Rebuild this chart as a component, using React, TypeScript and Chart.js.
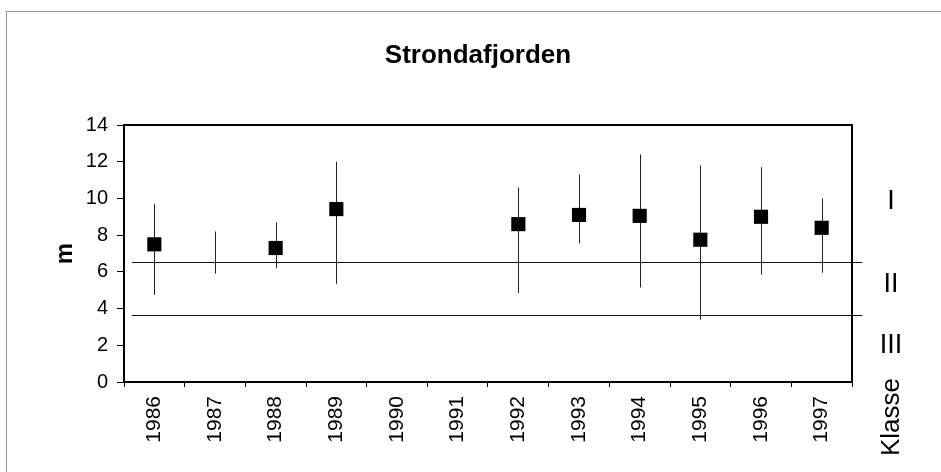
import React, { useEffect, useRef } from 'react';
import { Chart, registerables } from 'chart.js';

Chart.register(...registerables);

const years = ['1986', '1987', '1988', '1989', '1990', '1991', '1992', '1993', '1994', '1995', '1996', '1997'];
const meanDepth = [7.5, null, 7.3, 9.42, null, null, 8.6, 9.1, 9.05, 7.75, 9.0, 8.4];
const maxDepth = [9.7, 8.2, 8.7, 12.0, null, null, 10.6, 11.3, 12.4, 11.8, 11.7, 10.0];
const minDepth = [4.75, 5.9, 6.2, 5.35, null, null, 4.85, 7.55, 5.15, 3.4, 5.85, 5.95];
const classLimits = [6.55, 3.65];
const classNames = ['I', 'II', 'III'];
const classNameValues = [9.85, 5.3, 2.0];
const chartTitle = 'Strondafjorden';

const FONT = '"Liberation Sans", Arial, Helvetica, sans-serif';

const extrasPlugin = {
  id: 'extras',
  beforeDatasetsDraw(chart: any) {
    const { ctx, chartArea } = chart;
    const x = chart.scales.x;
    const y = chart.scales.y;
    ctx.save();
    // class limit lines
    ctx.strokeStyle = '#111';
    ctx.lineWidth = 1;
    classLimits.forEach((v) => {
      const py = Math.round(y.getPixelForValue(v)) + 0.5;
      ctx.beginPath();
      ctx.moveTo(chartArea.left + 8, py);
      ctx.lineTo(chartArea.right + 10, py);
      ctx.stroke();
    });
    // error bars
    ctx.strokeStyle = '#222';
    years.forEach((_, i) => {
      const hi = maxDepth[i];
      const lo = minDepth[i];
      if (hi == null || lo == null) return;
      const px = Math.round(x.getPixelForValue(i)) + 0.5;
      ctx.beginPath();
      ctx.moveTo(px, y.getPixelForValue(hi));
      ctx.lineTo(px, y.getPixelForValue(lo));
      ctx.stroke();
    });
    ctx.restore();
  },
  afterDraw(chart: any) {
    const { ctx, chartArea } = chart;
    const y = chart.scales.y;
    ctx.save();
    // frame
    ctx.strokeStyle = '#000';
    ctx.lineWidth = 2;
    ctx.strokeRect(chartArea.left, chartArea.top, chartArea.right - chartArea.left, chartArea.bottom - chartArea.top);
    ctx.fillStyle = '#000';
    ctx.textAlign = 'center';
    ctx.textBaseline = 'middle';
    // title
    ctx.font = `bold 26px ${FONT}`;
    ctx.fillText(chartTitle, (chartArea.left + chartArea.right) / 2 - 10, chartArea.top - 69);
    // class names
    ctx.font = `27px ${FONT}`;
    classNames.forEach((n, i) => {
      ctx.fillText(n, chartArea.right + 39, y.getPixelForValue(classNameValues[i]));
    });
    // Klasse
    ctx.font = `26px ${FONT}`;
    ctx.translate(chartArea.right + 40, chartArea.bottom + 35);
    ctx.rotate(-Math.PI / 2);
    ctx.fillText('Klasse', 0, 0);
    ctx.restore();
  },
};

export default function App() {
  const ref = useRef<HTMLCanvasElement>(null);
  useEffect(() => {
    if (!ref.current) return;
    const chart = new Chart(ref.current, {
      type: 'line',
      data: {
        labels: years,
        datasets: [
          {
            data: meanDepth as any,
            showLine: false,
            pointStyle: 'rect',
            pointRadius: 10,
            pointBackgroundColor: '#000',
            pointBorderColor: '#000',
            pointBorderWidth: 0,
          },
        ],
      },
      options: {
        animation: false,
        responsive: false,
        layout: { padding: { left: 0, right: 89, top: 125, bottom: 0 } },
        plugins: {
          legend: { display: false },
          tooltip: { enabled: false },
          title: { display: false },
        },
        scales: {
          x: {
            type: 'category',
            offset: true,
            grid: { offset: true, drawOnChartArea: false, tickLength: 5, color: '#000' },
            border: { color: '#000', width: 2 },
            ticks: {
              color: '#000',
              font: { family: FONT, size: 21 },
              minRotation: 90,
              maxRotation: 90,
              autoSkip: false,
              padding: 9,
            },
            afterFit: (s: any) => {
              s.height = 90;
            },
          },
          y: {
            min: 0,
            max: 14,
            grid: { drawOnChartArea: false, tickLength: 7, color: '#000' },
            border: { color: '#000', width: 2 },
            ticks: {
              stepSize: 2,
              color: '#000',
              font: { family: FONT, size: 20 },
              padding: 9,
            },
            title: {
              display: true,
              text: 'm',
              color: '#000',
              font: { family: FONT, size: 24, weight: 'bold' },
              padding: { top: 51, bottom: 0 },
            },
            afterFit: (s: any) => {
              s.width = 124;
            },
          },
        },
      },
      plugins: [extrasPlugin],
    });
    return () => chart.destroy();
  }, []);
  return (
    <div>
      <div
        style={{
          position: 'fixed',
          left: 6,
          top: 11,
          width: 1000,
          height: 1000,
          border: '1px solid #999',
          pointerEvents: 'none',
        }}
      />
      <canvas
        ref={ref}
        width={941}
        height={472}
        style={{ position: 'fixed', left: 0, top: 0, width: 941, height: 472 }}
      />
    </div>
  );
}
